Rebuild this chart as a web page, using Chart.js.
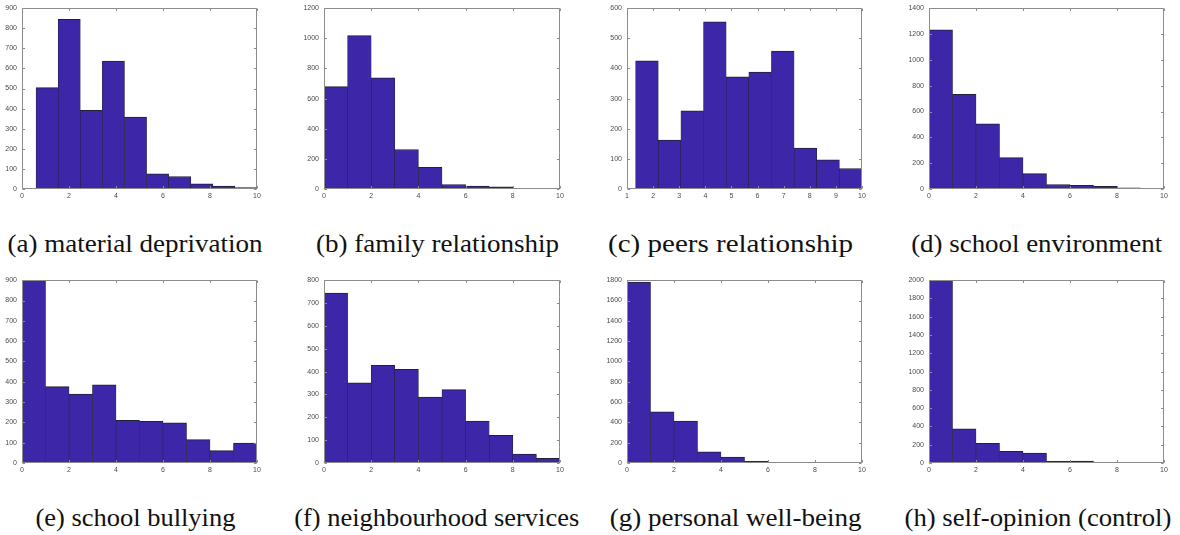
<!DOCTYPE html>
<html>
<head>
<meta charset="utf-8">
<script src="https://cdn.jsdelivr.net/npm/chart.js@4.4.1/dist/chart.umd.min.js"></script>
<style>
  html,body{margin:0;padding:0;background:#fff;width:1180px;height:535px;overflow:hidden;position:relative;}
  canvas{position:absolute;}
  .cap{position:absolute;font-family:"Liberation Serif","Times New Roman",Times,serif;font-size:25px;color:#111;white-space:nowrap;transform-origin:center center;}
</style>
</head>
<body>
<script>
// ---- data ----
const centersUniform = [0.5, 1.5, 2.5, 3.5, 4.5, 5.5, 6.5, 7.5, 8.5, 9.5];
const centersA = [1.07, 2.01, 2.95, 3.89, 4.83, 5.77, 6.71, 7.65, 8.59, 9.53];
const centersC = [1.764, 2.631, 3.498, 4.365, 5.232, 6.099, 6.966, 7.833, 8.700, 9.567];

const valuesA = [505, 845, 392, 637, 358, 75, 62, 26, 15, 7];
const valuesB = [680, 1018, 738, 262, 143, 30, 20, 14, 5, 5];
const valuesC = [425, 162, 259, 555, 372, 388, 458, 136, 97, 68];
const valuesD = [1233, 734, 504, 243, 119, 35, 28, 20, 10, 5];
const valuesE = [900, 376, 339, 385, 210, 205, 198, 115, 61, 98];
const valuesF = [744, 351, 427, 410, 289, 321, 183, 121, 39, 20];
const valuesG = [1781, 505, 413, 111, 59, 16, 4, 4, 1, 1];
const valuesH = [2000, 375, 215, 127, 109, 18, 22, 5, 1, 1];

const captions = ["(a) material deprivation", "(b) family relationship", "(c) peers relationship", "(d) school environment",
                  "(e) school bullying", "(f) neighbourhood services", "(g) personal well-being", "(h) self-opinion (control)"];
const yMax = [900, 1200, 600, 1400, 900, 800, 1800, 2000];
const yStep = [100, 200, 100, 200, 100, 100, 200, 200];
const xMin = [0, 0, 1, 0, 0, 0, 0, 0];
const xStep = [2, 2, 1, 2, 2, 2, 2, 2];

// ---- layout ----
const panels = [
  {c: centersA, v: valuesA, pl: 22, pr: 257, pt: 5, pb: 189},
  {c: centersUniform, v: valuesB, pl: 324, pr: 560, pt: 5, pb: 189},
  {c: centersC, v: valuesC, pl: 627, pr: 862, pt: 5, pb: 189},
  {c: centersUniform, v: valuesD, pl: 929, pr: 1164, pt: 5, pb: 189},
  {c: centersUniform, v: valuesE, pl: 22, pr: 257, pt: 277, pb: 463},
  {c: centersUniform, v: valuesF, pl: 324, pr: 560, pt: 277, pb: 463},
  {c: centersUniform, v: valuesG, pl: 627, pr: 862, pt: 277, pb: 463},
  {c: centersUniform, v: valuesH, pl: 929, pr: 1164, pt: 277, pb: 463}
];
const capCenters = [[135,244],[437,244],[731,244],[1037,244],[135,518],[437,518],[736,518],[1038,518]];

const PADL = 30, PADT = 6, PADR = 10, PADB = 16;

const boxPlugin = {
  id: 'box',
  afterDraw(chart) {
    const {ctx, chartArea: {left, right, top, bottom}, scales: {x, y}} = chart;
    ctx.save();
    ctx.strokeStyle = '#8c8c8c';
    ctx.lineWidth = 1;
    ctx.beginPath();
    const L = Math.round(left) + 0.5, R = Math.round(right) - 0.5, T = Math.round(top) + 0.5, B = Math.round(bottom) - 0.5;
    ctx.rect(L, T, R - L, B - T);
    x.ticks.forEach(t => {
      const px = Math.round(x.getPixelForValue(t.value)) + 0.5;
      ctx.moveTo(px, B); ctx.lineTo(px, B - 2.5);
      ctx.moveTo(px, T); ctx.lineTo(px, T + 2.5);
    });
    y.ticks.forEach(t => {
      const py = Math.round(y.getPixelForValue(t.value)) + 0.5;
      ctx.moveTo(L, py); ctx.lineTo(L + 2.5, py);
      ctx.moveTo(R, py); ctx.lineTo(R - 2.5, py);
    });
    ctx.stroke();
    ctx.restore();
  }
};

panels.forEach((p, i) => {
  const cv = document.createElement('canvas');
  const w = (p.pr - p.pl) + PADL + PADR;
  const h = (p.pb - p.pt) + PADT + PADB;
  cv.width = w; cv.height = h;
  cv.style.width = w + 'px'; cv.style.height = h + 'px';
  cv.style.left = (p.pl - PADL) + 'px';
  cv.style.top = (p.pt - PADT) + 'px';
  document.body.appendChild(cv);

  const tickFont = {family: '"Liberation Sans", Arial, Helvetica, sans-serif', size: 7};
  new Chart(cv, {
    type: 'bar',
    data: {
      datasets: [{
        data: p.c.map((cx, k) => ({x: cx, y: p.v[k]})),
        backgroundColor: '#3E26A8',
        borderColor: '#20203a',
        borderWidth: {top: 1, left: 0.6, right: 0.6, bottom: 0},
        borderSkipped: false,
        barPercentage: 1.0,
        categoryPercentage: 1.0
      }]
    },
    options: {
      responsive: false,
      animation: false,
      devicePixelRatio: 1,
      layout: {padding: {top: PADT, right: PADR, left: 0, bottom: 0}},
      plugins: {legend: {display: false}, tooltip: {enabled: false}},
      scales: {
        x: {
          type: 'linear', offset: false, min: xMin[i], max: 10,
          grid: {display: false, drawTicks: false}, border: {display: false},
          ticks: {stepSize: xStep[i], font: tickFont, color: '#4a4a4a', padding: 3, maxRotation: 0,
                  callback: v => String(v)},
          afterFit: s => { s.height = PADB; }
        },
        y: {
          min: 0, max: yMax[i],
          grid: {display: false, drawTicks: false}, border: {display: false},
          ticks: {stepSize: yStep[i], font: tickFont, color: '#4a4a4a', padding: 5,
                  callback: v => String(v)},
          afterFit: s => { s.width = PADL; }
        }
      }
    },
    plugins: [boxPlugin]
  });
});

// captions
const targetW = [255, 243, 245, 251, 200, 285, 252, 267];
captions.forEach((t, i) => {
  const d = document.createElement('div');
  d.className = 'cap';
  d.textContent = t;
  document.body.appendChild(d);
  const r = d.getBoundingClientRect();
  const sx = targetW[i] / r.width;
  d.style.left = (capCenters[i][0] - r.width / 2) + 'px';
  d.style.top = (capCenters[i][1] - r.height / 2) + 'px';
  d.style.transform = 'scaleX(' + sx.toFixed(3) + ')';
});
</script>
</body>
</html>
